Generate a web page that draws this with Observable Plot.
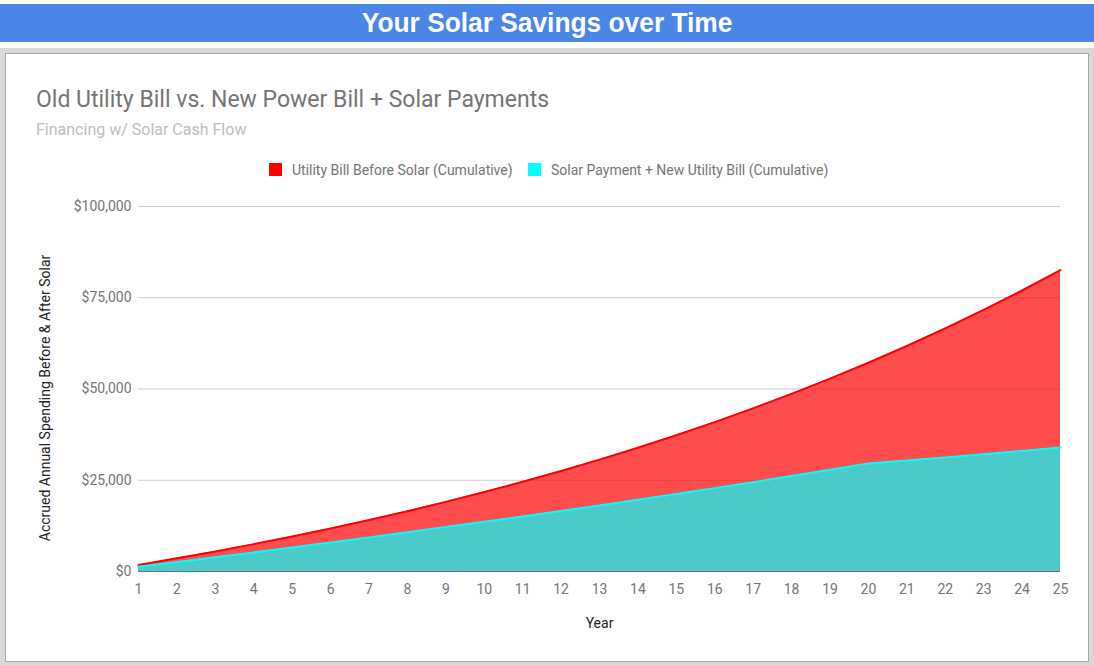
<!DOCTYPE html>
<html><head><meta charset="utf-8">
<script src="https://cdn.jsdelivr.net/npm/d3@7"></script>
<script src="https://cdn.jsdelivr.net/npm/@observablehq/plot@0.6"></script>
<style>
html,body{margin:0;padding:0;background:#fff;}
body{width:1094px;height:665px;position:relative;overflow:hidden;font-family:Roboto,sans-serif;}
#header{position:absolute;left:0;top:4px;width:1094px;height:38px;background:#4a86e8;color:#fff;text-align:center;font:bold 28px "Liberation Sans",Arial,sans-serif;line-height:38px;}
#header span{display:inline-block;transform:scaleX(0.94);}
#frame{position:absolute;left:0;top:48px;width:1094px;height:617px;background:#d9d9d9;}
#box{position:absolute;left:5px;top:53px;width:1084px;height:609px;background:#fff;border:1px solid #a8a8a8;box-sizing:border-box;}
.t{position:absolute;white-space:nowrap;line-height:1;font-family:Roboto,sans-serif;}
#title{left:36px;top:88px;font-size:23px;color:#757575;}
#subtitle{left:36px;top:122px;font-size:16px;color:#bdbdbd;}
.sw{position:absolute;width:13px;height:13px;top:163px;}
.lg{top:163px;font-size:14px;color:#757575;}
#chart{position:absolute;left:6px;top:190px;}
</style>
</head><body>
<div id="header"><span>Your Solar Savings over Time</span></div>
<div id="frame"></div>
<div id="box"></div>
<div class="t" id="title">Old Utility Bill vs. New Power Bill + Solar Payments</div>
<div class="t" id="subtitle">Financing w/ Solar Cash Flow</div>
<div class="sw" style="left:269px;background:#ff0000"></div>
<div class="t lg" style="left:292px">Utility Bill Before Solar (Cumulative)</div>
<div class="sw" style="left:528px;background:#00ffff"></div>
<div class="t lg" style="left:551px">Solar Payment + New Utility Bill (Cumulative)</div>
<div id="chart"></div>
<script>
const years = [1,2,3,4,5,6,7,8,9,10,11,12,13,14,15,16,17,18,19,20,21,22,23,24,25];
const utilityBefore = [1780,3600,5500,7500,9600,11800,14100,16530,19080,21760,24580,27540,30640,33910,37330,40930,44700,48670,52830,57200,61790,66610,71680,76990,82570];
const solarAfter = [1280,2580,3900,5230,6580,7950,9330,10740,12160,13610,15090,16580,18110,19660,21230,22840,24480,26150,27860,29600,30400,31230,32110,33030,34000];
const yTicks = [0,25000,50000,75000,100000];
const xTitle = "Year";
const yTitle = "Accrued Annual Spending Before & After Solar";

const data = years.map((y,i)=>({year:y, before:utilityBefore[i], after:solarAfter[i]}));
const fmt = d3.format(",");

const chart = Plot.plot({
  width:1082, height:468,
  marginLeft:132, marginRight:28, marginTop:16, marginBottom:87,
  style:{fontFamily:"Roboto, sans-serif", fontSize:"14px", color:"#757575", background:"transparent", overflow:"visible"},
  x:{type:"linear", domain:[1,25]},
  y:{type:"linear", domain:[0,100000]},
  marks:[
    Plot.gridY(yTicks, {stroke:"#cccccc", strokeOpacity:1}),
    Plot.areaY(data, {x:"year", y:"before", fill:"#ff0000", fillOpacity:0.7}),
    Plot.areaY(data, {x:"year", y:"after", fill:"#00ffff", fillOpacity:0.7}),
    Plot.lineY(data, {x:"year", y:"before", stroke:"#ff0000", strokeWidth:2}),
    Plot.lineY(data, {x:"year", y:"after", stroke:"#00ffff", strokeWidth:2}),
    Plot.ruleY([0], {stroke:"#333", strokeOpacity:0.6}),
    Plot.axisX({ticks:years, tickSize:0, tickPadding:13, tickFormat:d=>String(d), label:null, fill:"#757575"}),
    Plot.axisY({ticks:yTicks, tickSize:0, tickPadding:7, tickFormat:d=>"$"+fmt(d), label:null, fill:"#757575"}),
    Plot.text([yTitle], {text:d=>d, frameAnchor:"left", textAnchor:"middle", dx:-92.5, dy:9, rotate:-90, fontSize:14, fill:"#222"}),
    Plot.text([xTitle], {text:d=>d, frameAnchor:"bottom", textAnchor:"middle", dy:56, fontSize:14, fill:"#222"})
  ]
});
document.getElementById("chart").appendChild(chart);
</script>
</body></html>
